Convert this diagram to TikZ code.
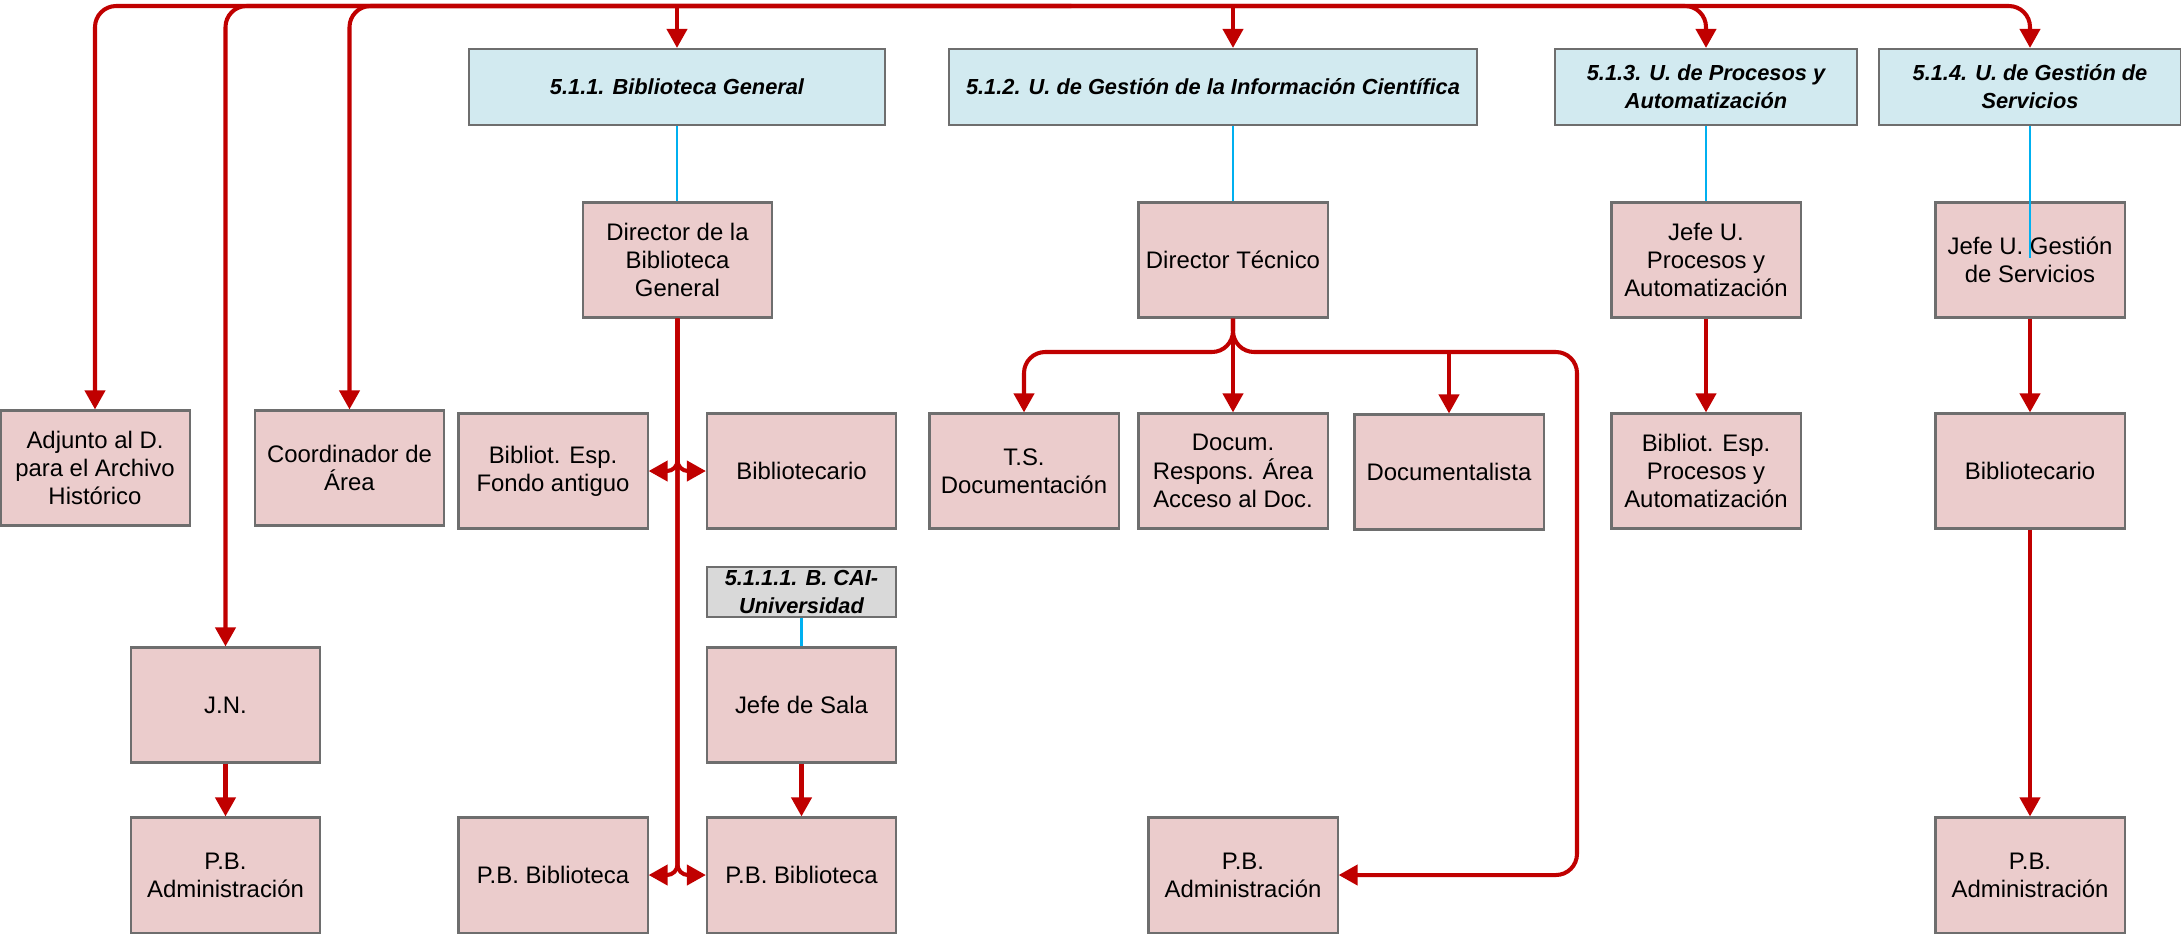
\documentclass[tikz,border=0pt]{standalone}
\usepackage{fontspec}
\setmainfont{Liberation Sans}
\usetikzlibrary{arrows.meta}

\definecolor{boxpink}{RGB}{235,204,204}
\definecolor{headblue}{RGB}{210,234,240}
\definecolor{caigray}{RGB}{217,217,217}
\definecolor{linered}{RGB}{192,0,0}
\definecolor{lineblue}{RGB}{0,176,240}
\definecolor{edgegray}{RGB}{110,110,110}

\tikzset{
  puesto/.style={draw=edgegray, line width=0.6pt, fill=boxpink,
    minimum width=1.89cm, minimum height=1.15cm, inner sep=1pt,
    align=center, font=\fontsize{6.8}{8}\selectfont},
  unidad/.style={draw=edgegray, line width=0.6pt, fill=headblue,
    minimum height=0.76cm, inner sep=1pt,
    align=center, font=\fontsize{6.2}{8}\selectfont\bfseries\itshape},
  redarr/.style={draw=linered, line width=1.15pt,
    -{Triangle[length=0.19cm,width=0.2cm]}},
  blueline/.style={draw=lineblue, line width=0.6pt}
}

\begin{document}
\begin{tikzpicture}[x=0.01cm,y=-0.01cm]
   \useasboundingbox (0,0) rectangle (2181,935);

   % units
   \node[unidad, minimum width=4.16cm] (h511) at (677,87) {5.1.1. Biblioteca General};
   \node[unidad, minimum width=5.28cm] (h512) at (1213,87) {5.1.2. U. de Gesti\'on de la Informaci\'on Cient\'ifica};
   \node[unidad, minimum width=3.02cm] (h513) at (1706,87) {5.1.3. U. de Procesos y\\Automatizaci\'on};
   \node[unidad, minimum width=3.02cm] (h514) at (2030,87) {5.1.4. U. de Gesti\'on de\\Servicios};

   % heads
   \node[puesto] (dirbg) at (677.5,260) {Director de la\\Biblioteca\\General};
   \node[puesto] (dirtec) at (1233,260) {Director T\'ecnico};
   \node[puesto] (jefeproc) at (1706,260) {Jefe U.\\Procesos y\\Automatizaci\'on};
   \node[puesto] (jefeserv) at (2030,260) {Jefe U. Gesti\'on\\de Servicios};

   % second row
   \node[puesto] (adjunto) at (95,468) {Adjunto al D.\\para el Archivo\\Hist\'orico};
   \node[puesto] (coord) at (349.5,468) {Coordinador de\\\'Area};
   \node[puesto] (fondo) at (553,471) {Bibliot. Esp.\\Fondo antiguo};
   \node[puesto] (bibbg) at (801.5,471) {Bibliotecario};
   \node[puesto] (tsdoc) at (1024,471) {T.S.\\Documentaci\'on};
   \node[puesto] (docum) at (1233,471) {Docum.\\Respons. \'Area\\Acceso al Doc.};
   \node[puesto] (docta) at (1449,472) {Documentalista};
   \node[puesto] (bibproc) at (1706,471) {Bibliot. Esp.\\Procesos y\\Automatizaci\'on};
   \node[puesto] (bibserv) at (2030,471) {Bibliotecario};

   % B. CAI
   \node[puesto, fill=caigray, minimum height=0.44cm, font=\fontsize{6.2}{8}\selectfont\bfseries\itshape] (cai) at (801.5,592) {5.1.1.1. B. CAI-\\Universidad};
   \node[puesto] (sala) at (801.5,705) {Jefe de Sala};
   \node[puesto] (jn) at (225.5,705) {J.N.};

   % bottom row
   \node[puesto] (pbadm1) at (225.5,875) {P.B.\\Administraci\'on};
   \node[puesto] (pbbib1) at (553,875) {P.B. Biblioteca};
   \node[puesto] (pbbib2) at (801.5,875) {P.B. Biblioteca};
   \node[puesto] (pbadm2) at (1243,875) {P.B.\\Administraci\'on};
   \node[puesto] (pbadm3) at (2030,875) {P.B.\\Administraci\'on};

   \coordinate (root) at (1071,6);
   \coordinate (tbar) at (1233,352);
   \coordinate (tright) at (1577,352);
   \coordinate (servend) at (2030,258);

   % top tree
   \draw[redarr, rounded corners=6pt] (root) -| (adjunto.north);
   \draw[redarr, rounded corners=6pt] (root) -| (jn.north);
   \draw[redarr, rounded corners=6pt] (root) -| (coord.north);
   \draw[redarr] (h511.north |- root) -- (h511.north);
   \draw[redarr] (dirtec |- root) -- (dirtec |- h512.north);
   \draw[redarr, rounded corners=6pt] (root) -| (h513.north);
   \draw[redarr, rounded corners=6pt] (root) -| (h514.north);

   % blue links
   \draw[blueline] (h511.south) -- (h511.south |- dirbg.north);
   \draw[blueline] (dirtec |- h512.south) -- (dirtec.north);
   \draw[blueline] (h513.south) -- (jefeproc.north);
   \draw[blueline] (h514.south) -- (h514.south |- servend);
   \draw[blueline] (cai.south) -- (sala.north);

   % Biblioteca General
   \draw[redarr, rounded corners=3pt] (dirbg.south) |- (fondo.east);
   \draw[redarr, rounded corners=3pt] (dirbg.south) |- (bibbg.west);
   \draw[redarr, rounded corners=3pt] (dirbg.south) |- (pbbib1.east);
   \draw[redarr, rounded corners=3pt] (dirbg.south) |- (pbbib2.west);

   % Director Tecnico
   \draw[redarr, rounded corners=6pt] (dirtec.south) -- (tbar) -| (tsdoc.north);
   \draw[redarr] (dirtec.south) -- (docum.north);
   \draw[redarr] (docta.north |- tbar) -- (docta.north);
   \draw[redarr, rounded corners=6pt] (dirtec.south) -- (tbar) -- (tright) |- (pbadm2.east);

   % straight links
   \draw[redarr] (jn.south) -- (pbadm1.north);
   \draw[redarr] (sala.south) -- (pbbib2.north);
   \draw[redarr] (jefeproc.south) -- (bibproc.north);
   \draw[redarr] (jefeserv.south) -- (bibserv.north);
   \draw[redarr] (bibserv.south) -- (pbadm3.north);
\end{tikzpicture}
\end{document}
